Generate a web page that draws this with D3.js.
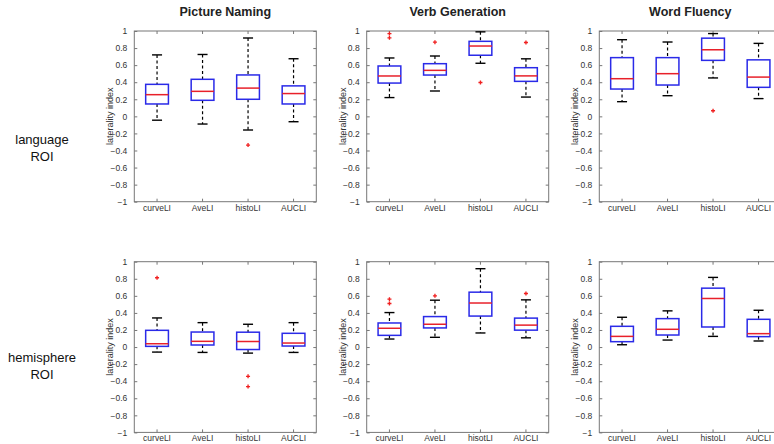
<!DOCTYPE html>
<html>
<head>
<meta charset="utf-8">
<script src="https://cdn.jsdelivr.net/npm/d3@7"></script>
<style>
  body { margin: 0; background: #fff; }
  svg { display: block; font-family: "Liberation Sans", Arial, sans-serif; }
</style>
</head>
<body>
<div id="chart"></div>
<script>
// tasks (columns) and ROI types (rows)
const tasks = ["Picture Naming", "Verb Generation", "Word Fluency"];
const roiLabels = [["language", "ROI"], ["hemisphere", "ROI"]];

// x categories, one list per panel (the verb/hemisphere one has the typo from the figure)
const methods = ["curveLI", "AveLI", "histoLI", "AUCLI"];
const methodsTypo = ["curveLI", "AveLI", "hisotLI", "AUCLI"];

const yTicks = [1, 0.8, 0.6, 0.4, 0.2, 0, -0.2, -0.4, -0.6, -0.8, -1];

// box stats: [lower whisker, Q1, median, Q3, upper whisker] per method
const langNaming   = [[-0.045, 0.145, 0.254, 0.375, 0.72], [-0.09, 0.188, 0.293, 0.434, 0.725], [-0.16, 0.2, 0.331, 0.485, 0.918], [-0.063, 0.145, 0.267, 0.357, 0.675]];
const langVerb     = [[0.22, 0.39, 0.473, 0.59, 0.684], [0.297, 0.484, 0.539, 0.617, 0.707], [0.622, 0.716, 0.824, 0.879, 0.99], [0.226, 0.41, 0.474, 0.57, 0.674]];
const langFluency  = [[0.172, 0.32, 0.441, 0.688, 0.898], [0.242, 0.367, 0.5, 0.688, 0.871], [0.45, 0.656, 0.78, 0.916, 0.97], [0.208, 0.34, 0.46, 0.662, 0.855]];
const hemiNaming   = [[-0.059, 0.008, 0.039, 0.196, 0.341], [-0.063, 0.024, 0.067, 0.176, 0.286], [-0.071, -0.029, 0.065, 0.174, 0.267], [-0.063, 0.012, 0.047, 0.161, 0.286]];
const hemiVerb     = [[0.094, 0.137, 0.22, 0.282, 0.404], [0.114, 0.224, 0.267, 0.357, 0.549], [0.165, 0.363, 0.516, 0.643, 0.918], [0.108, 0.198, 0.257, 0.339, 0.553]];
const hemiFluency  = [[0.027, 0.063, 0.125, 0.243, 0.349], [0.082, 0.141, 0.208, 0.333, 0.424], [0.125, 0.235, 0.569, 0.69, 0.816], [0.071, 0.122, 0.157, 0.325, 0.431]];

// outliers per method
const langNamingOut  = [[], [], [-0.337], []];
const langVerbOut    = [[0.97, 0.92], [0.869], [0.397], [0.865]];
const langFluencyOut = [[], [], [0.066], []];
const hemiNamingOut  = [[0.812], [], [-0.343, -0.463], []];
const hemiVerbOut    = [[0.561, 0.51], [0.6], [], [0.627]];
const hemiFluencyOut = [[], [], [], []];

const panels = [
  { row: 0, col: 0, cats: methods, stats: langNaming, out: langNamingOut },
  { row: 0, col: 1, cats: methods, stats: langVerb, out: langVerbOut },
  { row: 0, col: 2, cats: methods, stats: langFluency, out: langFluencyOut },
  { row: 1, col: 0, cats: methods, stats: hemiNaming, out: hemiNamingOut },
  { row: 1, col: 1, cats: methodsTypo, stats: hemiVerb, out: hemiVerbOut },
  { row: 1, col: 2, cats: methods, stats: hemiFluency, out: hemiFluencyOut }
];

const width = 774, height = 444;
const colLeft = [134.3, 366.7, 599.3];
const rowTop = [31, 261.7];
const pw = 182, ph = 170.7;

const svg = d3.select('#chart').append('svg')
  .attr('width', width)
  .attr('height', height);

// column titles
tasks.forEach((t, i) => {
  svg.append('text')
    .attr('x', colLeft[i] + pw / 2)
    .attr('y', 16)
    .attr('text-anchor', 'middle')
    .attr('font-size', 12.5)
    .attr('font-weight', 'bold')
    .attr('fill', '#222')
    .text(t);
});

// row labels, sitting a bit above the middle of each row
const rowLabelY = [144, 362];
roiLabels.forEach((lines, r) => {
  lines.forEach((s, k) => {
    svg.append('text')
      .attr('x', 42)
      .attr('y', rowLabelY[r] + k * 17)
      .attr('text-anchor', 'middle')
      .attr('font-size', 13)
      .attr('fill', '#111')
      .text(s);
  });
});

const axisColor = '#777';
const textColor = '#333';

panels.forEach(p => {
  const x0 = colLeft[p.col], y0 = rowTop[p.row];
  const x = d3.scaleBand().domain(p.cats).range([x0, x0 + pw]).padding(0);
  const y = d3.scaleLinear().domain([-1, 1]).range([y0 + ph, y0]);
  const bw = x.bandwidth() * 0.5;
  const cx = c => x(c) + x.bandwidth() / 2;

  const g = svg.append('g');

  // frame
  g.append('rect')
    .attr('x', x0).attr('y', y0)
    .attr('width', pw).attr('height', ph)
    .attr('fill', 'none')
    .attr('stroke', axisColor)
    .attr('stroke-width', 1);

  // y axis, ticks pointing inward
  const yAxis = d3.axisLeft(y).tickValues(yTicks).tickSizeInner(-3).tickSizeOuter(0)
    .tickPadding(7).tickFormat(d => d3.format('')(+d.toFixed(1)));
  const ya = g.append('g').attr('transform', `translate(${x0},0)`).call(yAxis);
  ya.select('.domain').remove();
  ya.selectAll('line').attr('stroke', axisColor);
  ya.selectAll('text').attr('font-size', 8.5).attr('fill', textColor)
    .attr('font-family', '"Liberation Sans", Arial, sans-serif');

  // right side ticks
  const yr = g.append('g').attr('transform', `translate(${x0 + pw},0)`)
    .call(d3.axisRight(y).tickValues(yTicks).tickSizeInner(-3).tickSizeOuter(0).tickFormat(''));
  yr.select('.domain').remove();
  yr.selectAll('line').attr('stroke', axisColor);

  // x axis at bottom
  const xa = g.append('g').attr('transform', `translate(0,${y0 + ph})`)
    .call(d3.axisBottom(x).tickSizeInner(-3).tickSizeOuter(0).tickPadding(3));
  xa.select('.domain').remove();
  xa.selectAll('line').attr('stroke', axisColor);
  xa.selectAll('text').attr('font-size', 8.5).attr('fill', textColor)
    .attr('font-family', '"Liberation Sans", Arial, sans-serif');

  // top ticks
  const xt = g.append('g').attr('transform', `translate(0,${y0})`)
    .call(d3.axisTop(x).tickSizeInner(-3).tickSizeOuter(0).tickFormat(''));
  xt.select('.domain').remove();
  xt.selectAll('line').attr('stroke', axisColor);

  // y label
  g.append('text')
    .attr('transform', `translate(${x0 - 21},${y0 + ph / 2}) rotate(-90)`)
    .attr('text-anchor', 'middle')
    .attr('font-size', 9)
    .attr('fill', textColor)
    .text('laterality index');

  const boxes = g.selectAll('.box')
    .data(p.cats.map((c, i) => ({ c, s: p.stats[i], o: p.out[i] })))
    .enter().append('g').attr('class', 'box');

  // whiskers
  boxes.append('line')
    .attr('x1', d => cx(d.c)).attr('x2', d => cx(d.c))
    .attr('y1', d => y(d.s[4])).attr('y2', d => y(d.s[3]))
    .attr('stroke', '#000').attr('stroke-width', 1.2).attr('stroke-dasharray', '3,2.5');
  boxes.append('line')
    .attr('x1', d => cx(d.c)).attr('x2', d => cx(d.c))
    .attr('y1', d => y(d.s[1])).attr('y2', d => y(d.s[0]))
    .attr('stroke', '#000').attr('stroke-width', 1.2).attr('stroke-dasharray', '3,2.5');

  // caps
  [0, 4].forEach(k => {
    boxes.append('line')
      .attr('x1', d => cx(d.c) - bw * 0.22).attr('x2', d => cx(d.c) + bw * 0.22)
      .attr('y1', d => y(d.s[k])).attr('y2', d => y(d.s[k]))
      .attr('stroke', '#000').attr('stroke-width', 1.4);
  });

  // box
  boxes.append('rect')
    .attr('x', d => cx(d.c) - bw / 2)
    .attr('y', d => y(d.s[3]))
    .attr('width', bw)
    .attr('height', d => y(d.s[1]) - y(d.s[3]))
    .attr('fill', 'none')
    .attr('stroke', '#2a2ae8')
    .attr('stroke-width', 1.5);

  // median
  boxes.append('line')
    .attr('x1', d => cx(d.c) - bw / 2).attr('x2', d => cx(d.c) + bw / 2)
    .attr('y1', d => y(d.s[2])).attr('y2', d => y(d.s[2]))
    .attr('stroke', '#e8202a').attr('stroke-width', 1.5);

  // outliers as red plus marks
  boxes.selectAll('.out')
    .data(d => d.o.map(v => ({ c: d.c, v })))
    .enter().append('path')
    .attr('class', 'out')
    .attr('d', d3.symbol(d3.symbolCross, 9))
    .attr('transform', d => `translate(${cx(d.c)},${y(d.v)})`)
    .attr('fill', '#f02020');
});
</script>
</body>
</html>
